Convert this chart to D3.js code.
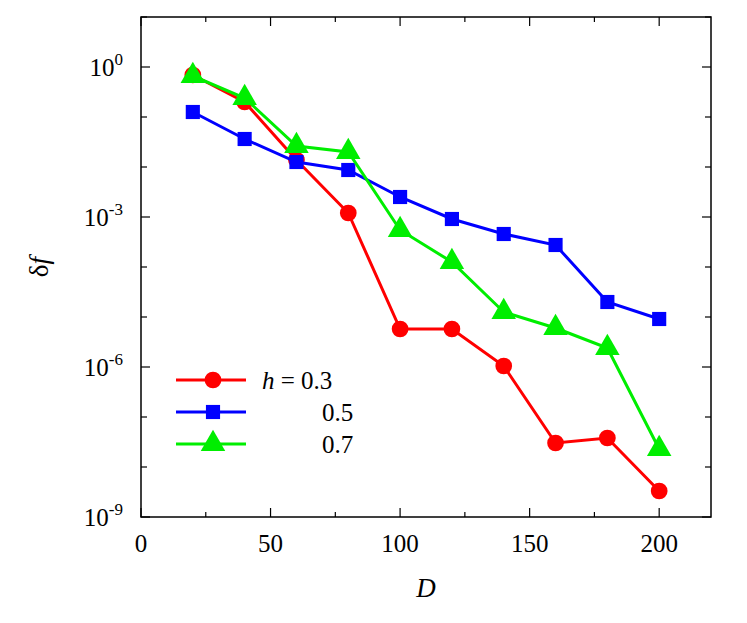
<!DOCTYPE html>
<html><head><meta charset="utf-8">
<script src="https://cdn.jsdelivr.net/npm/d3@7"></script>
<style>body{margin:0;background:#fff}text{font-family:"Liberation Serif",serif}</style>
</head><body><svg id="c" width="747" height="623"></svg>
<script>
// data (log10 of delta f)
var dValues = [20, 40, 60, 80, 100, 120, 140, 160, 180, 200];
var logH03 = [-0.16, -0.70, -1.86, -2.92, -5.24, -5.24, -5.98, -7.52, -7.42, -8.48];
var logH05 = [-0.90, -1.44, -1.90, -2.06, -2.60, -3.04, -3.34, -3.56, -4.70, -5.04];
var logH07 = [-0.18, -0.62, -1.58, -1.70, -3.26, -3.90, -4.90, -5.22, -5.62, -7.64];
var xTicks = [0, 50, 100, 150, 200];
var yLabelExps = [0, -3, -6, -9];
var legendNames = ['0.3', '0.5', '0.7'];

var svg = d3.select('#c');
var pLeft = 141, pRight = 711, pTop = 17, pBottom = 517;
var x = d3.scaleLinear().domain([0, 220]).range([pLeft, pRight]);
var y = d3.scaleLog().domain([1e-9, 10]).range([pBottom, pTop]);

svg.append('rect').attr('x', pLeft).attr('y', pTop).attr('width', pRight - pLeft).attr('height', pBottom - pTop)
    .attr('fill', 'none').attr('stroke', '#000').attr('stroke-width', 1.5);

// x ticks
var xMinor = d3.range(0, 221, 25);
xMinor.forEach(function (v) {
    var len = v % 50 === 0 ? 9 : 5;
    svg.append('line').attr('x1', x(v)).attr('x2', x(v)).attr('y1', pBottom).attr('y2', pBottom - len).attr('stroke', '#000').attr('stroke-width', 1.2);
    svg.append('line').attr('x1', x(v)).attr('x2', x(v)).attr('y1', pTop).attr('y2', pTop + len).attr('stroke', '#000').attr('stroke-width', 1.2);
});
xTicks.forEach(function (v) {
    svg.append('text').attr('x', x(v)).attr('y', pBottom + 35).attr('text-anchor', 'middle').attr('font-size', 25).text(v);
});
// y ticks, one per decade
d3.range(-9, 2).forEach(function (e) {
    var len = e % 3 === 0 ? 9 : 6;
    var yy = y(Math.pow(10, e));
    svg.append('line').attr('x1', pLeft).attr('x2', pLeft + len).attr('y1', yy).attr('y2', yy).attr('stroke', '#000').attr('stroke-width', 1.2);
    svg.append('line').attr('x1', pRight).attr('x2', pRight - len).attr('y1', yy).attr('y2', yy).attr('stroke', '#000').attr('stroke-width', 1.2);
});
yLabelExps.forEach(function (e) {
    var t = svg.append('text').attr('x', 123).attr('y', y(Math.pow(10, e)) + 9).attr('text-anchor', 'end').attr('font-size', 25);
    t.append('tspan').text('10');
    t.append('tspan').attr('dy', -11).attr('font-size', 17).text(e);
});
svg.append('text').attr('x', x(110)).attr('y', 597).attr('text-anchor', 'middle').attr('font-size', 27).attr('font-style', 'italic').text('D');
var yl = svg.append('text').attr('transform', 'translate(48,' + ((pTop + pBottom) / 2) + ') rotate(-90)').attr('text-anchor', 'middle').attr('font-size', 27);
yl.append('tspan').text('δ');
yl.append('tspan').attr('font-style', 'italic').text('f');

var series = [
    {vals: logH03, color: '#ff0000', shape: d3.symbolCircle, size: 220},
    {vals: logH05, color: '#0000ff', shape: d3.symbolSquare, size: 200},
    {vals: logH07, color: '#00ee00', shape: d3.symbolTriangle, size: 260}
];
var line = d3.line().x(function (d) { return x(d[0]); }).y(function (d) { return y(Math.pow(10, d[1])); });
series.forEach(function (s) {
    var pts = dValues.map(function (d, i) { return [d, s.vals[i]]; });
    svg.append('path').attr('d', line(pts)).attr('fill', 'none').attr('stroke', s.color).attr('stroke-width', 3);
    svg.selectAll(null).data(pts).enter().append('path')
        .attr('d', d3.symbol().type(s.shape).size(s.size))
        .attr('transform', function (d) { return 'translate(' + x(d[0]) + ',' + y(Math.pow(10, d[1])) + ')'; })
        .attr('fill', s.color);
});

// legend
series.forEach(function (s, i) {
    var ly = 380 + i * 32;
    svg.append('line').attr('x1', 176).attr('x2', 246).attr('y1', ly).attr('y2', ly).attr('stroke', s.color).attr('stroke-width', 3);
    svg.append('path').attr('d', d3.symbol().type(s.shape).size(s.size)).attr('transform', 'translate(213,' + ly + ')').attr('fill', s.color);
    var t = svg.append('text').attr('x', i === 0 ? 262 : 322).attr('y', ly + 9).attr('font-size', 25);
    if (i === 0) {
        t.append('tspan').attr('font-style', 'italic').text('h');
        t.append('tspan').text(' = ' + legendNames[i]);
    } else {
        t.text(legendNames[i]);
    }
});
</script></body></html>
